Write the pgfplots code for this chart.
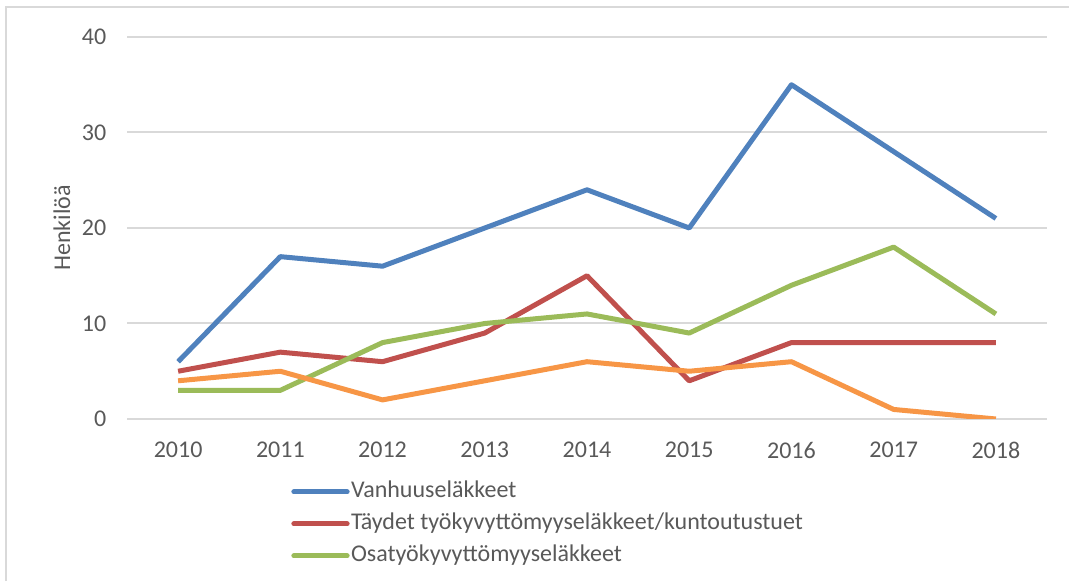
\documentclass[border=0pt]{standalone}
\usepackage{pgfplots}
\pgfplotsset{compat=1.18}
\usepackage{fontspec}
\setmainfont{Carlito}
\definecolor{cblue}{HTML}{4F81BD}
\definecolor{cred}{HTML}{C0504D}
\definecolor{cgreen}{HTML}{9BBB59}
\definecolor{corange}{HTML}{F79646}
\definecolor{cgrid}{HTML}{D9D9D9}
\definecolor{ctext}{HTML}{595959}
\begin{document}
\begin{tikzpicture}
\useasboundingbox (0,0) rectangle (801.75pt,435.75pt);
\draw[cgrid, line width=1.5pt] (4.5pt,0pt) -- (4.5pt,430.5pt) -- (801.75pt,430.5pt);
\begin{axis}[
  at={(95.25pt,121.5pt)}, anchor=south west,
  scale only axis, width=690pt, height=286.5pt,
  xmin=-0.5, xmax=8.5, ymin=0, ymax=40,
  xtick={0,1,2,3,4,5,6,7,8},
  xticklabels={2010,2011,2012,2013,2014,2015,2016,2017,2018},
  ytick={0,10,20,30,40},
  ymajorgrids, grid style={cgrid, line width=1.5pt},
  axis line style={draw=none},
  major tick length=0pt,
  /pgf/number format/assume math mode=true,
  tick label style={font=\fontsize{18}{21.6}\selectfont, text=ctext},
  yticklabel style={anchor=east, xshift=-12pt},
  xticklabel style={anchor=north, yshift=-14pt},
  ylabel={Henkilöä},
  ylabel style={at={(axis description cs:-0.0707,0.5)}, anchor=center, font=\fontsize{18}{21.6}\selectfont, text=ctext},
  legend style={at={(axis description cs:0.174,-0.15)}, anchor=north west, draw=none, fill=none,
    font=\fontsize{18}{21.6}\selectfont, text=ctext, row sep=5pt,
    nodes={inner sep=1pt, text height=13pt, text depth=4pt}},
  legend cell align=left,
  legend image code/.code={\draw[#1, line width=3.75pt, line cap=round] (0pt,0pt) -- (40pt,0pt);},
  every axis plot/.append style={line width=3.75pt, line join=round},
]
\addplot[cblue] coordinates {(0,6) (1,17) (2,16) (3,20) (4,24) (5,20) (6,35) (7,28) (8,21)};
\addlegendentry{Vanhuuseläkkeet}
\addplot[cred] coordinates {(0,5) (1,7) (2,6) (3,9) (4,15) (5,4) (6,8) (7,8) (8,8)};
\addlegendentry{Täydet työkyvyttömyyseläkkeet/kuntoutustuet}
\addplot[cgreen] coordinates {(0,3) (1,3) (2,8) (3,10) (4,11) (5,9) (6,14) (7,18) (8,11)};
\addlegendentry{Osatyökyvyttömyyseläkkeet}
\addplot[corange, forget plot] coordinates {(0,4) (1,5) (2,2) (3,4) (4,6) (5,5) (6,6) (7,1) (8,0)};
\end{axis}
\end{tikzpicture}
\end{document}
